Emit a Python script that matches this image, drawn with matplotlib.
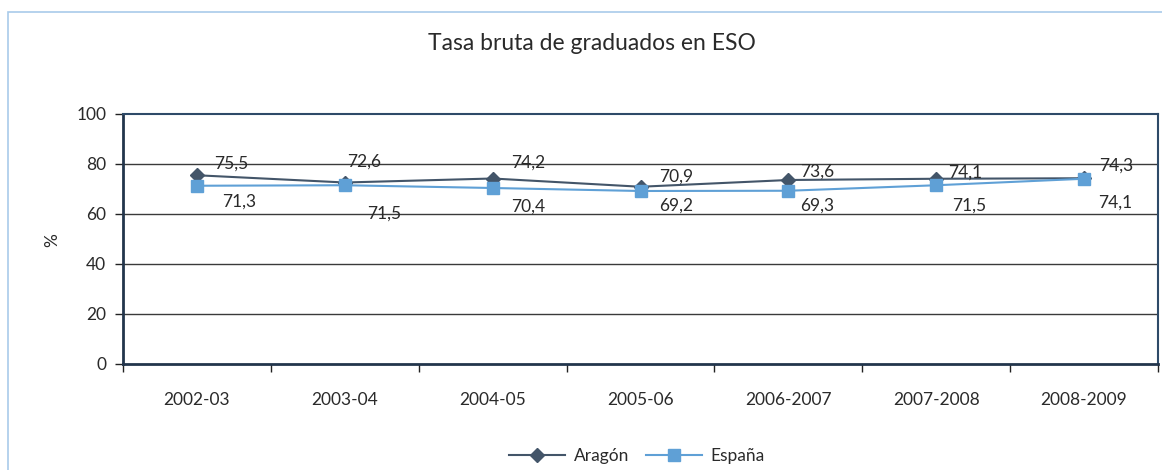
import matplotlib
matplotlib.use("Agg")
import matplotlib.pyplot as plt
from matplotlib.patches import Rectangle
from matplotlib.ticker import FixedLocator

plt.rcParams['font.family'] = ['Lato', 'DejaVu Sans']

categories = ["2002-03", "2003-04", "2004-05", "2005-06", "2006-2007", "2007-2008", "2008-2009"]
aragon = [75.5, 72.6, 74.2, 70.9, 73.6, 74.1, 74.3]
espana = [71.3, 71.5, 70.4, 69.2, 69.3, 71.5, 74.1]
aragon_labels = ["75,5", "72,6", "74,2", "70,9", "73,6", "74,1", "74,3"]
espana_labels = ["71,3", "71,5", "70,4", "69,2", "69,3", "71,5", "74,1"]

# label offsets in pixels (styling)
aragon_off = [(34, 12), (19, 21), (36, 16), (36, 10), (29, 8), (29, 6), (32, 13)]
espana_off = [(42, -16), (39, -28), (36, -19), (36, -15), (29, -15), (33, -20), (31, -24)]

W, H = 1162, 470
fig = plt.figure(figsize=(W / 100, H / 100), dpi=100)
fig.patch.set_facecolor("white")

# outer light-blue frame
fig.patches.append(Rectangle((8 / W, -0.05), 1.1, 1 - 12 / H + 0.05, transform=fig.transFigure,
                             fill=False, edgecolor="#A9CBEA", linewidth=1.2))

ax = fig.add_axes([123 / W, 1 - 364 / H, (1158 - 123) / W, (364 - 114) / H])
x = list(range(len(categories)))

c_ar = "#435569"
c_es = "#5FA0D6"
ax.plot(x, aragon, color=c_ar, lw=1.5, marker="D", markersize=7, zorder=3, label="Aragón")
ax.plot(x, espana, color=c_es, lw=1.5, marker="s", markersize=8.5, zorder=4, label="España")

txt_c = "#2a2a2a"
for i in x:
    ax.annotate(aragon_labels[i], (x[i], aragon[i]), xytext=aragon_off[i], textcoords="offset pixels",
                ha="center", va="center", fontsize=12.5, color=txt_c, zorder=5)
    ax.annotate(espana_labels[i], (x[i], espana[i]), xytext=espana_off[i], textcoords="offset pixels",
                ha="center", va="center", fontsize=12.5, color=txt_c, zorder=5)

ax.set_xlim(-0.5, len(categories) - 0.5)
ax.set_ylim(0, 100)
ax.set_yticks([0, 20, 40, 60, 80, 100])
ax.set_xticks(x)
ax.set_xticklabels(categories)
ax.xaxis.set_minor_locator(FixedLocator([i - 0.5 for i in range(len(categories) + 1)]))
ax.tick_params(axis="x", which="major", length=0, pad=20, labelsize=12.5, labelcolor=txt_c)
ax.tick_params(axis="x", which="minor", length=6, width=1, color="#222222", direction="out")
ax.tick_params(axis="y", length=6, width=1, color="#222222", pad=6, labelsize=12.5, labelcolor=txt_c)

for yv in [20, 40, 60, 80]:
    ax.axhline(yv, color="#3a3a3a", lw=1.0, zorder=1)

spine_c = "#22354C"
for s in ["left", "bottom"]:
    ax.spines[s].set_color(spine_c)
    ax.spines[s].set_linewidth(2)
for s in ["top", "right"]:
    ax.spines[s].set_color("#2E4A68")
    ax.spines[s].set_linewidth(1.5)

fig.text(52 / W, 1 - 240 / H, "%", rotation=90, ha="center", va="center",
         fontsize=12.5, color=txt_c)

fig.text(592 / W, 1 - 44 / H, "Tasa bruta de graduados en ESO", ha="center", va="center",
         fontsize=16.5, color=txt_c)

leg = fig.legend(loc="center", bbox_to_anchor=(637 / W, 1 - 456 / H), ncol=2, frameon=False,
                 fontsize=12.5, handlelength=3.2, columnspacing=1.0, handletextpad=0.5)
for t in leg.get_texts():
    t.set_color(txt_c)

fig.savefig("out.png", dpi=100)
